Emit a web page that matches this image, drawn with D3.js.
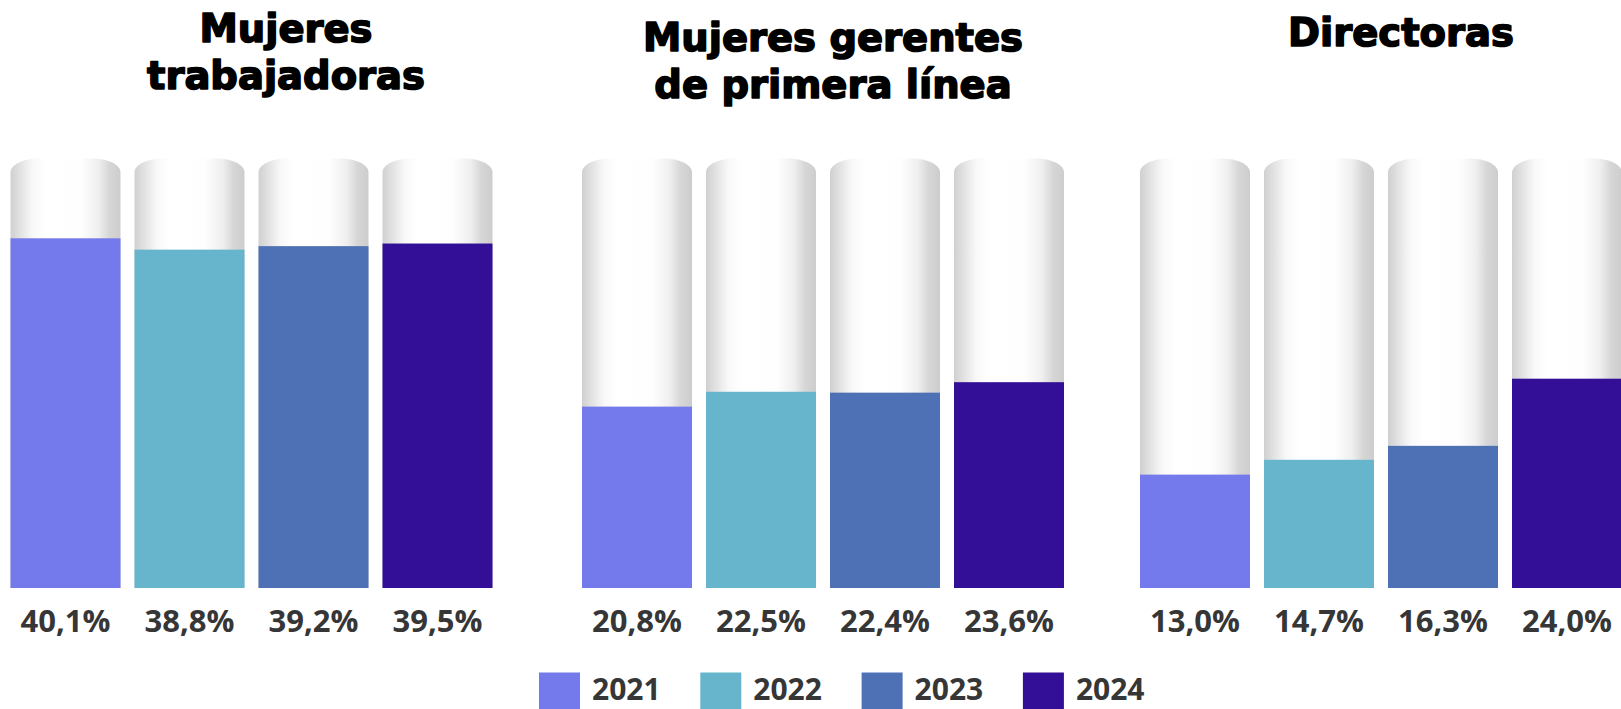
<!DOCTYPE html>
<html>
<head>
<meta charset="utf-8">
<script src="https://cdn.jsdelivr.net/npm/d3@7"></script>
<style>
  html, body { margin: 0; padding: 0; background: #fff; }
  svg { display: block; }
</style>
</head>
<body>
<svg id="chart" width="1621" height="709"></svg>
<script>
// ---- data ----
const years = ["2021", "2022", "2023", "2024"];
const panels = ["Mujeres trabajadoras", "Mujeres gerentes de primera línea", "Directoras"];
const titleLines = [["Mujeres", "trabajadoras"], ["Mujeres gerentes", "de primera línea"], ["Directoras"]];
const trabajadoras = [40.1, 38.8, 39.2, 39.5];
const gerentes = [20.8, 22.5, 22.4, 23.6];
const directoras = [13.0, 14.7, 16.3, 24.0];
const seriesByPanel = [trabajadoras, gerentes, directoras];
const colors = ["#7479EC", "#66B5CC", "#4E70B4", "#330E96"];

// ---- layout ----
const W = 1621, H = 709;
const panelX = [10.5, 582, 1140];
const titleCX = [286, 833, 1401];
const titleBase = [42, 51, 46];
const yMax = 49.25;
const svg = d3.select("#chart");

const y = d3.scaleLinear().domain([0, yMax]).range([588, 158.5]);
const x = d3.scaleBand().domain(years).range([0, 482]).paddingInner(14 / 124).paddingOuter(0);
const color = d3.scaleOrdinal().domain(years).range(colors);
const fmt = v => d3.format(".1f")(v).replace(".", ",") + "%";

// gradient for cylinders
const defs = svg.append("defs");
const grad = defs.append("linearGradient").attr("id", "cyl").attr("x1", "0%").attr("x2", "100%").attr("y1", "0%").attr("y2", "0%");
[[0, "#d0d0d0"], [0.06, "#dcdcdc"], [0.2, "#f8f8f8"], [0.32, "#ffffff"], [0.64, "#fefefe"], [0.8, "#efefef"], [0.9, "#d6d6d6"], [1, "#cdcdcd"]]
  .forEach(([o, c]) => grad.append("stop").attr("offset", o).attr("stop-color", c));

function cylPath(x0, w, top, bottom) {
  const rx = 28, ry = 14;
  const p = d3.path();
  p.moveTo(x0, bottom);
  p.lineTo(x0, top + ry);
  p.bezierCurveTo(x0, top + ry * 0.45, x0 + rx * 0.45, top, x0 + rx, top);
  p.lineTo(x0 + w - rx, top);
  p.bezierCurveTo(x0 + w - rx * 0.45, top, x0 + w, top + ry * 0.45, x0 + w, top + ry);
  p.lineTo(x0 + w, bottom);
  p.closePath();
  return p.toString();
}

panels.forEach((name, pi) => {
  const g = svg.append("g").attr("transform", `translate(${panelX[pi]},0)`);
  const vals = seriesByPanel[pi];
  const data = years.map((yr, i) => ({ yr, v: vals[i] }));

  // title
  const t = svg.append("text")
    .attr("x", titleCX[pi]).attr("y", titleBase[pi])
    .attr("text-anchor", "middle")
    .style("font-family", "'DejaVu Sans', sans-serif")
    .style("font-weight", "bold")
    .style("font-size", "38.5px")
    .attr("fill", "#000").attr("stroke", "#000").attr("stroke-width", 1.6)
    .attr("stroke-linejoin", "round");
  titleLines[pi].forEach((ln, li) => {
    t.append("tspan").attr("x", titleCX[pi]).attr("dy", li === 0 ? 0 : 47).text(ln);
  });

  // background cylinders
  g.selectAll("path.cyl").data(data).join("path")
    .attr("class", "cyl")
    .attr("d", d => cylPath(x(d.yr), x.bandwidth(), y(yMax), y(0)))
    .attr("fill", "url(#cyl)");

  // value bars
  g.selectAll("rect.bar").data(data).join("rect")
    .attr("class", "bar")
    .attr("x", d => x(d.yr))
    .attr("y", d => y(d.v))
    .attr("width", x.bandwidth())
    .attr("height", d => y(0) - y(d.v))
    .attr("fill", d => color(d.yr));

  // labels
  g.selectAll("text.lbl").data(data).join("text")
    .attr("class", "lbl")
    .attr("x", d => x(d.yr) + x.bandwidth() / 2)
    .attr("y", 632)
    .attr("text-anchor", "middle")
    .style("font-family", "'Open Sans', sans-serif")
    .style("font-weight", "bold")
    .style("font-size", "31px")
    .attr("fill", "#363636")
    .text(d => fmt(d.v));
});

// legend
const legX = d3.scaleBand().domain(years).range([539, 539 + 161.3 * 4]);
const leg = svg.append("g");
const li = leg.selectAll("g").data(years).join("g").attr("transform", d => `translate(${legX(d)},672.5)`);
li.append("rect").attr("width", 41).attr("height", 41).attr("fill", d => color(d));
li.append("text").attr("x", 53).attr("y", 27.5)
  .style("font-family", "'Open Sans', sans-serif")
  .style("font-weight", "bold")
  .style("font-size", "30px")
  .attr("fill", "#363636")
  .text(d => d);
</script>
</body>
</html>
